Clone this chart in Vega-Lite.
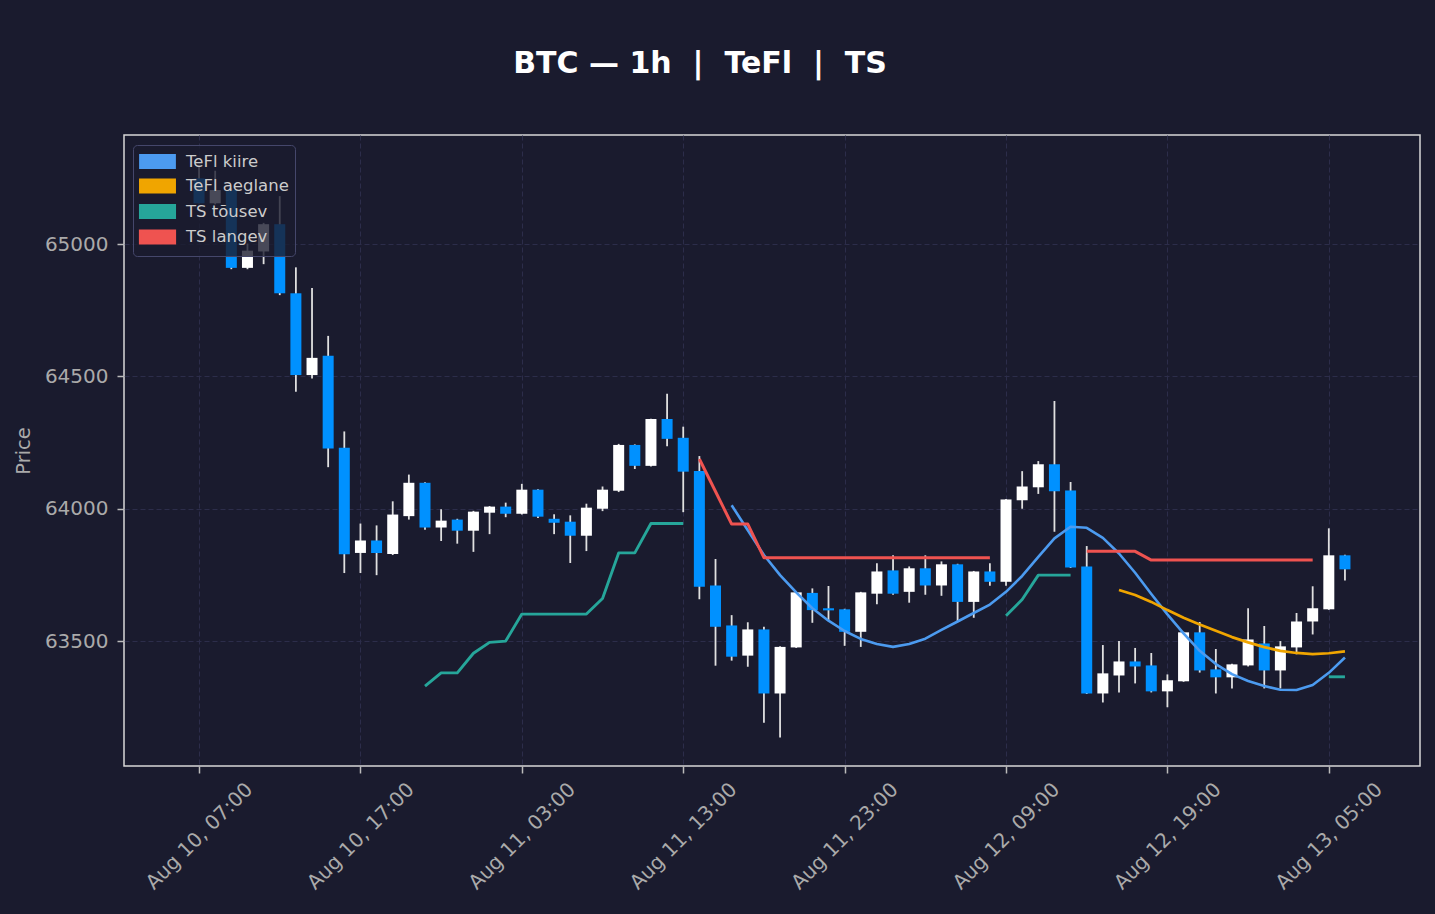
{
  "$schema": "https://vega.github.io/schema/vega-lite/v6.json",
  "width": 1296,
  "height": 631,
  "autosize": {"type": "none"},
  "padding": {"left": 124, "top": 135, "right": 15, "bottom": 148},
  "background": "#1a1b2e",
  "title": {"text": "BTC — 1h \u00a0|\u00a0 TeFl \u00a0|\u00a0 TS", "fontSize": 30, "fontWeight": "bold", "font": "DejaVu Sans", "color": "#ffffff", "anchor": "middle", "frame": "group", "dx": -72, "offset": 56},
  "config": {
    "font": "DejaVu Sans",
    "view": {"stroke": "#d8d8d8", "strokeWidth": 1.5},
    "axis": {"labelColor": "#aaaaaa", "labelFontSize": 20, "labelFont": "DejaVu Sans", "tickColor": "#bbbbbb", "tickSize": 7, "tickWidth": 1.5, "gridColor": "#2c2d4a", "gridDash": [5, 3], "gridWidth": 1, "domain": false}
  },
  "datasets": {
    "candles": [
      {"t": "2024-08-10T07:00", "o": 65248, "h": 65298, "l": 65154, "c": 65154},
      {"t": "2024-08-10T08:00", "o": 65154, "h": 65277, "l": 65150, "c": 65204},
      {"t": "2024-08-10T09:00", "o": 65204, "h": 65210, "l": 64905, "c": 64910},
      {"t": "2024-08-10T10:00", "o": 64910, "h": 65002, "l": 64905, "c": 64975},
      {"t": "2024-08-10T11:00", "o": 64972, "h": 65080, "l": 64924, "c": 65075},
      {"t": "2024-08-10T12:00", "o": 65075, "h": 65181, "l": 64807, "c": 64814},
      {"t": "2024-08-10T13:00", "o": 64814, "h": 64912, "l": 64442, "c": 64505},
      {"t": "2024-08-10T14:00", "o": 64505, "h": 64834, "l": 64492, "c": 64570},
      {"t": "2024-08-10T15:00", "o": 64578, "h": 64653, "l": 64157, "c": 64228},
      {"t": "2024-08-10T16:00", "o": 64230, "h": 64292, "l": 63757, "c": 63828},
      {"t": "2024-08-10T17:00", "o": 63833, "h": 63944, "l": 63757, "c": 63880},
      {"t": "2024-08-10T18:00", "o": 63880, "h": 63937, "l": 63749, "c": 63833},
      {"t": "2024-08-10T19:00", "o": 63829, "h": 64028, "l": 63825, "c": 63978},
      {"t": "2024-08-10T20:00", "o": 63972, "h": 64129, "l": 63959, "c": 64098},
      {"t": "2024-08-10T21:00", "o": 64098, "h": 64100, "l": 63921, "c": 63929},
      {"t": "2024-08-10T22:00", "o": 63929, "h": 63998, "l": 63878, "c": 63955},
      {"t": "2024-08-10T23:00", "o": 63959, "h": 63962, "l": 63868, "c": 63917},
      {"t": "2024-08-11T00:00", "o": 63917, "h": 63992, "l": 63837, "c": 63989},
      {"t": "2024-08-11T01:00", "o": 63985, "h": 64010, "l": 63904, "c": 64008},
      {"t": "2024-08-11T02:00", "o": 64008, "h": 64023, "l": 63968, "c": 63981},
      {"t": "2024-08-11T03:00", "o": 63981, "h": 64094, "l": 63978, "c": 64072},
      {"t": "2024-08-11T04:00", "o": 64072, "h": 64074, "l": 63965, "c": 63970},
      {"t": "2024-08-11T05:00", "o": 63962, "h": 63979, "l": 63904, "c": 63947},
      {"t": "2024-08-11T06:00", "o": 63951, "h": 63975, "l": 63795, "c": 63898},
      {"t": "2024-08-11T07:00", "o": 63898, "h": 64019, "l": 63840, "c": 64004},
      {"t": "2024-08-11T08:00", "o": 64000, "h": 64084, "l": 63991, "c": 64072},
      {"t": "2024-08-11T09:00", "o": 64068, "h": 64245, "l": 64063, "c": 64241},
      {"t": "2024-08-11T10:00", "o": 64241, "h": 64243, "l": 64150, "c": 64162},
      {"t": "2024-08-11T11:00", "o": 64162, "h": 64340, "l": 64160, "c": 64339},
      {"t": "2024-08-11T12:00", "o": 64339, "h": 64434, "l": 64236, "c": 64264},
      {"t": "2024-08-11T13:00", "o": 64268, "h": 64310, "l": 63987, "c": 64140},
      {"t": "2024-08-11T14:00", "o": 64143, "h": 64199, "l": 63658, "c": 63705},
      {"t": "2024-08-11T15:00", "o": 63710, "h": 63810, "l": 63407, "c": 63554},
      {"t": "2024-08-11T16:00", "o": 63559, "h": 63598, "l": 63426, "c": 63441},
      {"t": "2024-08-11T17:00", "o": 63445, "h": 63571, "l": 63403, "c": 63544},
      {"t": "2024-08-11T18:00", "o": 63544, "h": 63554, "l": 63191, "c": 63302},
      {"t": "2024-08-11T19:00", "o": 63302, "h": 63480, "l": 63136, "c": 63478},
      {"t": "2024-08-11T20:00", "o": 63476, "h": 63686, "l": 63474, "c": 63684},
      {"t": "2024-08-11T21:00", "o": 63682, "h": 63699, "l": 63569, "c": 63617},
      {"t": "2024-08-11T22:00", "o": 63624, "h": 63708, "l": 63579, "c": 63616},
      {"t": "2024-08-11T23:00", "o": 63620, "h": 63622, "l": 63482, "c": 63535},
      {"t": "2024-08-12T00:00", "o": 63535, "h": 63686, "l": 63478, "c": 63684},
      {"t": "2024-08-12T01:00", "o": 63679, "h": 63794, "l": 63639, "c": 63763},
      {"t": "2024-08-12T02:00", "o": 63767, "h": 63824, "l": 63675, "c": 63679},
      {"t": "2024-08-12T03:00", "o": 63686, "h": 63782, "l": 63645, "c": 63775},
      {"t": "2024-08-12T04:00", "o": 63775, "h": 63824, "l": 63675, "c": 63710},
      {"t": "2024-08-12T05:00", "o": 63710, "h": 63801, "l": 63671, "c": 63790},
      {"t": "2024-08-12T06:00", "o": 63790, "h": 63792, "l": 63573, "c": 63648},
      {"t": "2024-08-12T07:00", "o": 63648, "h": 63765, "l": 63588, "c": 63763},
      {"t": "2024-08-12T08:00", "o": 63763, "h": 63794, "l": 63709, "c": 63724},
      {"t": "2024-08-12T09:00", "o": 63724, "h": 64037, "l": 63709, "c": 64035},
      {"t": "2024-08-12T10:00", "o": 64032, "h": 64142, "l": 64000, "c": 64084},
      {"t": "2024-08-12T11:00", "o": 64081, "h": 64180, "l": 64056, "c": 64168},
      {"t": "2024-08-12T12:00", "o": 64168, "h": 64407, "l": 63913, "c": 64066},
      {"t": "2024-08-12T13:00", "o": 64069, "h": 64101, "l": 63776, "c": 63778},
      {"t": "2024-08-12T14:00", "o": 63782, "h": 63859, "l": 63300, "c": 63302},
      {"t": "2024-08-12T15:00", "o": 63302, "h": 63485, "l": 63268, "c": 63378},
      {"t": "2024-08-12T16:00", "o": 63370, "h": 63500, "l": 63306, "c": 63423},
      {"t": "2024-08-12T17:00", "o": 63423, "h": 63474, "l": 63340, "c": 63404},
      {"t": "2024-08-12T18:00", "o": 63408, "h": 63455, "l": 63306, "c": 63310},
      {"t": "2024-08-12T19:00", "o": 63310, "h": 63374, "l": 63250, "c": 63352},
      {"t": "2024-08-12T20:00", "o": 63348, "h": 63535, "l": 63346, "c": 63533},
      {"t": "2024-08-12T21:00", "o": 63533, "h": 63572, "l": 63381, "c": 63389},
      {"t": "2024-08-12T22:00", "o": 63393, "h": 63470, "l": 63302, "c": 63363},
      {"t": "2024-08-12T23:00", "o": 63363, "h": 63414, "l": 63321, "c": 63412},
      {"t": "2024-08-13T00:00", "o": 63408, "h": 63624, "l": 63404, "c": 63506},
      {"t": "2024-08-13T01:00", "o": 63491, "h": 63557, "l": 63321, "c": 63389},
      {"t": "2024-08-13T02:00", "o": 63389, "h": 63500, "l": 63321, "c": 63480},
      {"t": "2024-08-13T03:00", "o": 63476, "h": 63606, "l": 63450, "c": 63574},
      {"t": "2024-08-13T04:00", "o": 63574, "h": 63707, "l": 63525, "c": 63624},
      {"t": "2024-08-13T05:00", "o": 63620, "h": 63926, "l": 63618, "c": 63824},
      {"t": "2024-08-13T06:00", "o": 63824, "h": 63826, "l": 63729, "c": 63771}
    ],
    "lines": [
      {"t": "2024-08-11T16:00", "s": "TeFl kiire", "g": "b1", "v": 64013},
      {"t": "2024-08-11T17:00", "s": "TeFl kiire", "g": "b1", "v": 63919},
      {"t": "2024-08-11T18:00", "s": "TeFl kiire", "g": "b1", "v": 63825},
      {"t": "2024-08-11T19:00", "s": "TeFl kiire", "g": "b1", "v": 63749},
      {"t": "2024-08-11T20:00", "s": "TeFl kiire", "g": "b1", "v": 63684},
      {"t": "2024-08-11T21:00", "s": "TeFl kiire", "g": "b1", "v": 63624},
      {"t": "2024-08-11T22:00", "s": "TeFl kiire", "g": "b1", "v": 63577},
      {"t": "2024-08-11T23:00", "s": "TeFl kiire", "g": "b1", "v": 63538},
      {"t": "2024-08-12T00:00", "s": "TeFl kiire", "g": "b1", "v": 63508},
      {"t": "2024-08-12T01:00", "s": "TeFl kiire", "g": "b1", "v": 63489},
      {"t": "2024-08-12T02:00", "s": "TeFl kiire", "g": "b1", "v": 63478},
      {"t": "2024-08-12T03:00", "s": "TeFl kiire", "g": "b1", "v": 63489},
      {"t": "2024-08-12T04:00", "s": "TeFl kiire", "g": "b1", "v": 63509},
      {"t": "2024-08-12T05:00", "s": "TeFl kiire", "g": "b1", "v": 63542},
      {"t": "2024-08-12T06:00", "s": "TeFl kiire", "g": "b1", "v": 63574},
      {"t": "2024-08-12T07:00", "s": "TeFl kiire", "g": "b1", "v": 63606},
      {"t": "2024-08-12T08:00", "s": "TeFl kiire", "g": "b1", "v": 63638},
      {"t": "2024-08-12T09:00", "s": "TeFl kiire", "g": "b1", "v": 63686},
      {"t": "2024-08-12T10:00", "s": "TeFl kiire", "g": "b1", "v": 63746},
      {"t": "2024-08-12T11:00", "s": "TeFl kiire", "g": "b1", "v": 63818},
      {"t": "2024-08-12T12:00", "s": "TeFl kiire", "g": "b1", "v": 63888},
      {"t": "2024-08-12T13:00", "s": "TeFl kiire", "g": "b1", "v": 63932},
      {"t": "2024-08-12T14:00", "s": "TeFl kiire", "g": "b1", "v": 63928},
      {"t": "2024-08-12T15:00", "s": "TeFl kiire", "g": "b1", "v": 63890},
      {"t": "2024-08-12T16:00", "s": "TeFl kiire", "g": "b1", "v": 63831},
      {"t": "2024-08-12T17:00", "s": "TeFl kiire", "g": "b1", "v": 63758},
      {"t": "2024-08-12T18:00", "s": "TeFl kiire", "g": "b1", "v": 63678},
      {"t": "2024-08-12T19:00", "s": "TeFl kiire", "g": "b1", "v": 63601},
      {"t": "2024-08-12T20:00", "s": "TeFl kiire", "g": "b1", "v": 63529},
      {"t": "2024-08-12T21:00", "s": "TeFl kiire", "g": "b1", "v": 63463},
      {"t": "2024-08-12T22:00", "s": "TeFl kiire", "g": "b1", "v": 63413},
      {"t": "2024-08-12T23:00", "s": "TeFl kiire", "g": "b1", "v": 63375},
      {"t": "2024-08-13T00:00", "s": "TeFl kiire", "g": "b1", "v": 63349},
      {"t": "2024-08-13T01:00", "s": "TeFl kiire", "g": "b1", "v": 63330},
      {"t": "2024-08-13T02:00", "s": "TeFl kiire", "g": "b1", "v": 63316},
      {"t": "2024-08-13T03:00", "s": "TeFl kiire", "g": "b1", "v": 63315},
      {"t": "2024-08-13T04:00", "s": "TeFl kiire", "g": "b1", "v": 63334},
      {"t": "2024-08-13T05:00", "s": "TeFl kiire", "g": "b1", "v": 63380},
      {"t": "2024-08-13T06:00", "s": "TeFl kiire", "g": "b1", "v": 63438},
      {"t": "2024-08-12T16:00", "s": "TeFl aeglane", "g": "o1", "v": 63693},
      {"t": "2024-08-12T17:00", "s": "TeFl aeglane", "g": "o1", "v": 63674},
      {"t": "2024-08-12T18:00", "s": "TeFl aeglane", "g": "o1", "v": 63648},
      {"t": "2024-08-12T19:00", "s": "TeFl aeglane", "g": "o1", "v": 63617},
      {"t": "2024-08-12T20:00", "s": "TeFl aeglane", "g": "o1", "v": 63588},
      {"t": "2024-08-12T21:00", "s": "TeFl aeglane", "g": "o1", "v": 63563},
      {"t": "2024-08-12T22:00", "s": "TeFl aeglane", "g": "o1", "v": 63539},
      {"t": "2024-08-12T23:00", "s": "TeFl aeglane", "g": "o1", "v": 63515},
      {"t": "2024-08-13T00:00", "s": "TeFl aeglane", "g": "o1", "v": 63495},
      {"t": "2024-08-13T01:00", "s": "TeFl aeglane", "g": "o1", "v": 63477},
      {"t": "2024-08-13T02:00", "s": "TeFl aeglane", "g": "o1", "v": 63463},
      {"t": "2024-08-13T03:00", "s": "TeFl aeglane", "g": "o1", "v": 63455},
      {"t": "2024-08-13T04:00", "s": "TeFl aeglane", "g": "o1", "v": 63451},
      {"t": "2024-08-13T05:00", "s": "TeFl aeglane", "g": "o1", "v": 63454},
      {"t": "2024-08-13T06:00", "s": "TeFl aeglane", "g": "o1", "v": 63461},
      {"t": "2024-08-10T21:00", "s": "TS tõusev", "g": "g1", "v": 63330},
      {"t": "2024-08-10T22:00", "s": "TS tõusev", "g": "g1", "v": 63380},
      {"t": "2024-08-10T23:00", "s": "TS tõusev", "g": "g1", "v": 63380},
      {"t": "2024-08-11T00:00", "s": "TS tõusev", "g": "g1", "v": 63454},
      {"t": "2024-08-11T01:00", "s": "TS tõusev", "g": "g1", "v": 63495},
      {"t": "2024-08-11T02:00", "s": "TS tõusev", "g": "g1", "v": 63500},
      {"t": "2024-08-11T03:00", "s": "TS tõusev", "g": "g1", "v": 63602},
      {"t": "2024-08-11T04:00", "s": "TS tõusev", "g": "g1", "v": 63602},
      {"t": "2024-08-11T05:00", "s": "TS tõusev", "g": "g1", "v": 63602},
      {"t": "2024-08-11T06:00", "s": "TS tõusev", "g": "g1", "v": 63602},
      {"t": "2024-08-11T07:00", "s": "TS tõusev", "g": "g1", "v": 63602},
      {"t": "2024-08-11T08:00", "s": "TS tõusev", "g": "g1", "v": 63661},
      {"t": "2024-08-11T09:00", "s": "TS tõusev", "g": "g1", "v": 63833},
      {"t": "2024-08-11T10:00", "s": "TS tõusev", "g": "g1", "v": 63833},
      {"t": "2024-08-11T11:00", "s": "TS tõusev", "g": "g1", "v": 63944},
      {"t": "2024-08-11T12:00", "s": "TS tõusev", "g": "g1", "v": 63944},
      {"t": "2024-08-11T13:00", "s": "TS tõusev", "g": "g1", "v": 63944},
      {"t": "2024-08-12T09:00", "s": "TS tõusev", "g": "g2", "v": 63596},
      {"t": "2024-08-12T10:00", "s": "TS tõusev", "g": "g2", "v": 63657},
      {"t": "2024-08-12T11:00", "s": "TS tõusev", "g": "g2", "v": 63749},
      {"t": "2024-08-12T12:00", "s": "TS tõusev", "g": "g2", "v": 63749},
      {"t": "2024-08-12T13:00", "s": "TS tõusev", "g": "g2", "v": 63749},
      {"t": "2024-08-13T05:00", "s": "TS tõusev", "g": "g3", "v": 63365},
      {"t": "2024-08-13T06:00", "s": "TS tõusev", "g": "g3", "v": 63365},
      {"t": "2024-08-11T14:00", "s": "TS langev", "g": "r1", "v": 64188},
      {"t": "2024-08-11T15:00", "s": "TS langev", "g": "r1", "v": 64065},
      {"t": "2024-08-11T16:00", "s": "TS langev", "g": "r1", "v": 63942},
      {"t": "2024-08-11T17:00", "s": "TS langev", "g": "r1", "v": 63942},
      {"t": "2024-08-11T18:00", "s": "TS langev", "g": "r1", "v": 63815},
      {"t": "2024-08-11T19:00", "s": "TS langev", "g": "r1", "v": 63815},
      {"t": "2024-08-11T20:00", "s": "TS langev", "g": "r1", "v": 63815},
      {"t": "2024-08-11T21:00", "s": "TS langev", "g": "r1", "v": 63815},
      {"t": "2024-08-11T22:00", "s": "TS langev", "g": "r1", "v": 63815},
      {"t": "2024-08-11T23:00", "s": "TS langev", "g": "r1", "v": 63815},
      {"t": "2024-08-12T00:00", "s": "TS langev", "g": "r1", "v": 63815},
      {"t": "2024-08-12T01:00", "s": "TS langev", "g": "r1", "v": 63815},
      {"t": "2024-08-12T02:00", "s": "TS langev", "g": "r1", "v": 63815},
      {"t": "2024-08-12T03:00", "s": "TS langev", "g": "r1", "v": 63815},
      {"t": "2024-08-12T04:00", "s": "TS langev", "g": "r1", "v": 63815},
      {"t": "2024-08-12T05:00", "s": "TS langev", "g": "r1", "v": 63815},
      {"t": "2024-08-12T06:00", "s": "TS langev", "g": "r1", "v": 63815},
      {"t": "2024-08-12T07:00", "s": "TS langev", "g": "r1", "v": 63815},
      {"t": "2024-08-12T08:00", "s": "TS langev", "g": "r1", "v": 63815},
      {"t": "2024-08-12T14:00", "s": "TS langev", "g": "r2", "v": 63839},
      {"t": "2024-08-12T15:00", "s": "TS langev", "g": "r2", "v": 63839},
      {"t": "2024-08-12T16:00", "s": "TS langev", "g": "r2", "v": 63839},
      {"t": "2024-08-12T17:00", "s": "TS langev", "g": "r2", "v": 63839},
      {"t": "2024-08-12T18:00", "s": "TS langev", "g": "r2", "v": 63806},
      {"t": "2024-08-12T19:00", "s": "TS langev", "g": "r2", "v": 63806},
      {"t": "2024-08-12T20:00", "s": "TS langev", "g": "r2", "v": 63806},
      {"t": "2024-08-12T21:00", "s": "TS langev", "g": "r2", "v": 63806},
      {"t": "2024-08-12T22:00", "s": "TS langev", "g": "r2", "v": 63806},
      {"t": "2024-08-12T23:00", "s": "TS langev", "g": "r2", "v": 63806},
      {"t": "2024-08-13T00:00", "s": "TS langev", "g": "r2", "v": 63806},
      {"t": "2024-08-13T01:00", "s": "TS langev", "g": "r2", "v": 63806},
      {"t": "2024-08-13T02:00", "s": "TS langev", "g": "r2", "v": 63806},
      {"t": "2024-08-13T03:00", "s": "TS langev", "g": "r2", "v": 63806},
      {"t": "2024-08-13T04:00", "s": "TS langev", "g": "r2", "v": 63806}
    ]
  },
  "encoding": {
    "x": {
      "field": "t", "type": "temporal",
      "scale": {"padding": 0, "domain": [{"year": 2024, "month": 8, "date": 10, "hours": 2, "minutes": 21}, {"year": 2024, "month": 8, "date": 13, "hours": 10, "minutes": 39}]},
      "axis": {
        "title": null, "grid": true, "format": "%b %d, %H:%M",
        "values": [
          {"year": 2024, "month": 8, "date": 10, "hours": 7},
          {"year": 2024, "month": 8, "date": 10, "hours": 17},
          {"year": 2024, "month": 8, "date": 11, "hours": 3},
          {"year": 2024, "month": 8, "date": 11, "hours": 13},
          {"year": 2024, "month": 8, "date": 11, "hours": 23},
          {"year": 2024, "month": 8, "date": 12, "hours": 9},
          {"year": 2024, "month": 8, "date": 12, "hours": 19},
          {"year": 2024, "month": 8, "date": 13, "hours": 5}
        ],
        "labelAngle": -45, "labelAlign": "right", "labelBaseline": "middle", "labelOffset": 50, "labelPadding": 13, "labelOverlap": false, "labelFlush": false, "labelBound": false
      }
    }
  },
  "layer": [
    {
      "data": {"name": "candles"},
      "mark": {"type": "rule", "strokeWidth": 1.8, "color": "#e0e0e0"},
      "encoding": {
        "y": {
          "field": "l", "type": "quantitative",
          "scale": {"domain": [63028, 65412], "zero": false, "nice": false, "padding": 0},
          "axis": {"title": "Price", "titleColor": "#aaaaaa", "titleFontSize": 19.4, "titleFontWeight": "normal", "titleFont": "DejaVu Sans", "titlePadding": 11, "labelPadding": 9, "values": [63500, 64000, 64500, 65000], "format": "d", "grid": true}
        },
        "y2": {"field": "h"}
      }
    },
    {
      "data": {"name": "candles"},
      "mark": {"type": "bar", "size": 11},
      "encoding": {
        "y": {"field": "o", "type": "quantitative"},
        "y2": {"field": "c"},
        "color": {"condition": {"test": "datum.c >= datum.o", "value": "#ffffff"}, "value": "#0091ff"}
      }
    },
    {
      "data": {"name": "lines"},
      "mark": {"type": "line", "strokeCap": "butt", "strokeJoin": "round"},
      "encoding": {
        "y": {"field": "v", "type": "quantitative"},
        "color": {
          "field": "s", "type": "nominal",
          "scale": {"domain": ["TeFl kiire", "TeFl aeglane", "TS tõusev", "TS langev"], "range": ["#4c9bf0", "#f0a500", "#26a69a", "#ef5350"]},
          "legend": {
            "title": null, "orient": "none", "legendX": 9, "legendY": 10,
            "symbolType": "M-1.9,-0.68H1.9V0.68H-1.9Z", "symbolSize": 324, "symbolStrokeWidth": 0, "symbolOffset": 8,
            "labelFontSize": 16.5, "labelColor": "#cccccc", "labelFont": "DejaVu Sans", "labelOffset": 18,
            "fillColor": "rgba(26,27,46,0.8)", "strokeColor": "#45476b", "cornerRadius": 4, "padding": 6, "rowPadding": 0.5,
            "encode": {"symbols": {"update": {"fill": {"scale": "color", "field": "value"}, "strokeWidth": {"value": 0}, "opacity": {"value": 1}}}}
          }
        },
        "strokeWidth": {
          "field": "s", "type": "nominal",
          "scale": {"domain": ["TeFl kiire", "TeFl aeglane", "TS tõusev", "TS langev"], "range": [2.6, 3, 3.5, 3.7]},
          "legend": null
        },
        "detail": {"field": "g"}
      }
    }
  ]
}
